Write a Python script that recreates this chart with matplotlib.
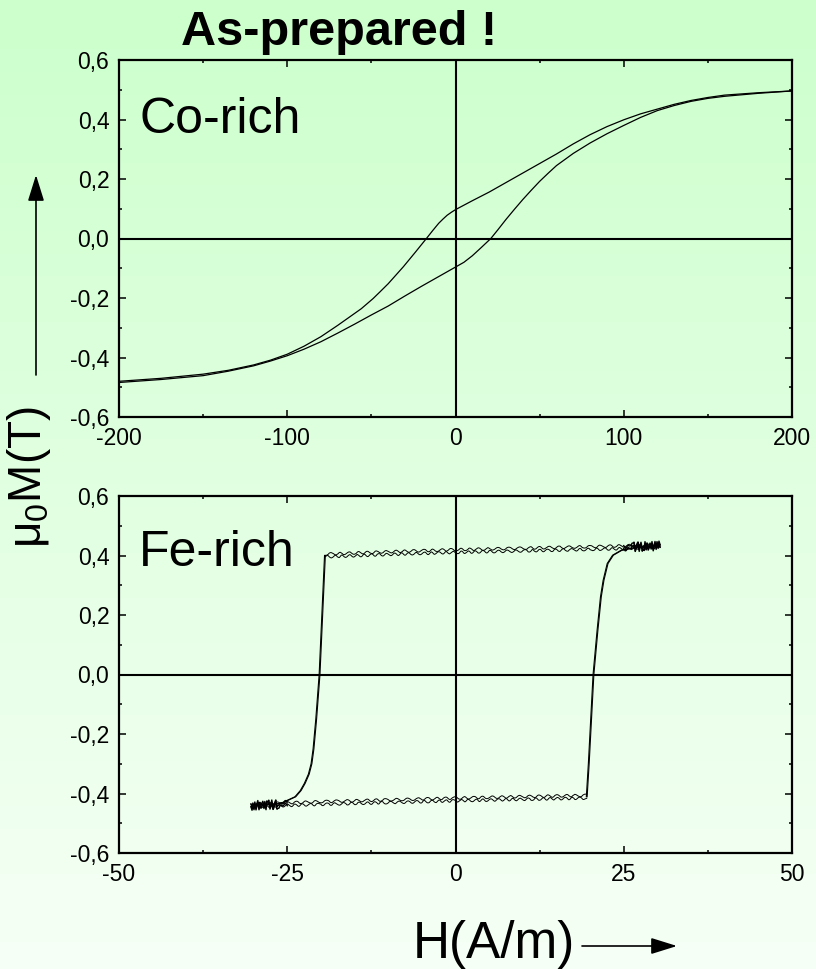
import matplotlib
matplotlib.use("Agg")
import matplotlib.pyplot as plt
import matplotlib.transforms as mtransforms
from matplotlib.ticker import MultipleLocator, FuncFormatter
import numpy as np

plt.rcParams['font.family'] = ['Liberation Sans', 'DejaVu Sans']
plt.rcParams['mathtext.fontset'] = 'custom'
plt.rcParams['mathtext.rm'] = 'Liberation Sans'

W, H = 816, 969

# Co-rich loop (H in A/m, mu0*M in T)
co_desc_H = [200, 180, 160, 150, 140, 130, 120, 110, 100, 90, 80, 70, 60, 50, 40, 30, 20, 10, 0,
             -2.5, -5, -7.5, -10, -13.5, -17, -24, -31, -40, -45, -49, -56, -63, -70, -80, -90, -100,
             -110, -120, -135, -150, -175, -200]
co_desc_M = [0.496, 0.490, 0.482, 0.474, 0.464, 0.451, 0.435, 0.419, 0.399, 0.376, 0.349, 0.318, 0.284,
             0.252, 0.220, 0.188, 0.156, 0.127, 0.097, 0.088, 0.078, 0.065, 0.051, 0.027, 0.002,
             -0.047, -0.095, -0.152, -0.180, -0.202, -0.236, -0.264, -0.292, -0.330, -0.362, -0.389,
             -0.409, -0.425, -0.443, -0.456, -0.470, -0.480]
co_asc_H = [-200, -175, -150, -135, -120, -110, -100, -90, -80, -70, -60, -50, -40, -30, -20, -10, 0,
            5, 10, 15, 21, 25, 30, 35, 40, 45, 50, 55, 60, 70, 80, 90, 100, 110, 120, 130, 140, 150,
            160, 180, 200]
co_asc_M = [-0.484, -0.474, -0.461, -0.446, -0.428, -0.412, -0.394, -0.372, -0.347, -0.318, -0.288,
            -0.257, -0.227, -0.193, -0.160, -0.128, -0.096, -0.080, -0.058, -0.032, 0.0, 0.028, 0.064,
            0.098, 0.131, 0.162, 0.192, 0.219, 0.245, 0.286, 0.321, 0.352, 0.380, 0.407, 0.430, 0.447,
            0.461, 0.471, 0.478, 0.488, 0.496]

# Fe-rich loop, split in flat (noisy) parts and switching parts
fe_top_H = [30.4, 25, 20, 10, 0, -10, -19.4]
fe_top_M = [0.432, 0.428, 0.425, 0.420, 0.415, 0.408, 0.400]
fe_drop_H = [-19.4, -19.6, -20.2, -20.7, -21.1, -21.4, -21.8, -22.4, -23.0, -23.8, -26.0, -30.0]
fe_drop_M = [0.400, 0.300, 0.0, -0.150, -0.250, -0.300, -0.335, -0.366, -0.390, -0.411, -0.434, -0.440]
fe_bot_H = [-30.4, -25, -20, -10, 0, 10, 19.5]
fe_bot_M = [-0.440, -0.436, -0.432, -0.426, -0.420, -0.415, -0.411]
fe_rise_H = [19.5, 19.8, 20.5, 21.1, 21.6, 22.0, 22.6, 23.4, 24.7, 27.0, 30.4]
fe_rise_M = [-0.411, -0.300, 0.0, 0.149, 0.261, 0.317, 0.373, 0.401, 0.418, 0.428, 0.432]

y_ticks = [-0.6, -0.4, -0.2, 0.0, 0.2, 0.4, 0.6]


def px(x, y):
    return x / W, 1 - y / H


fig = plt.figure(figsize=(W / 100, H / 100), dpi=100)

# green gradient background
bg = fig.add_axes([0, 0, 1, 1], zorder=-5)
top = np.array([204, 255, 204]) / 255
bot = np.array([246, 255, 246]) / 255
t = np.linspace(0, 1, 256)[:, None]
grad = top + (bot - top) * t
bg.imshow(grad[:, None, :], aspect='auto', extent=[0, 1, 0, 1])
bg.set_axis_off()


def setup(ax, xlim, xmajor, xminor):
    ax.set_facecolor('none')
    ax.set_xlim(*xlim)
    ax.set_ylim(-0.6, 0.6)
    ax.set_yticks(y_ticks)
    ax.xaxis.set_major_locator(MultipleLocator(xmajor))
    ax.xaxis.set_minor_locator(MultipleLocator(xminor))
    ax.yaxis.set_minor_locator(MultipleLocator(0.1))
    ax.yaxis.set_major_formatter(FuncFormatter(lambda v, p: f"{v:.1f}".replace('.', ',')))
    ax.xaxis.set_major_formatter(FuncFormatter(lambda v, p: f"{v:.0f}"))
    ax.tick_params(which='both', direction='in', top=True, right=True, width=1.1, labelsize=16.5)
    ax.tick_params(which='major', length=5)
    ax.tick_params(which='minor', length=2.5)
    ax.tick_params(axis='x', pad=7)
    ax.tick_params(axis='y', pad=7)
    for s in ax.spines.values():
        s.set_linewidth(1.6)
    ax.axhline(0, color='black', lw=1.5, zorder=1)
    ax.axvline(0, color='black', lw=1.5, zorder=1)


x0, x1 = 119, 792
ax1 = fig.add_axes([x0 / W, 1 - 417 / H, (x1 - x0) / W, 357 / H])
ax2 = fig.add_axes([x0 / W, 1 - 853 / H, (x1 - x0) / W, 357 / H])
setup(ax1, (-200, 200), 100, 50)
setup(ax2, (-50, 50), 25, 12.5)

ax1.plot(co_desc_H, co_desc_M, color='black', lw=0.9)
ax1.plot(co_asc_H, co_asc_M, color='black', lw=0.9)

# switching branches: two nearly overlapping traces
for dx in (-0.4, 0.4):
    off = ax2.transData + mtransforms.ScaledTranslation(dx / 100, 0, fig.dpi_scale_trans)
    ax2.plot(fe_drop_H, fe_drop_M, color='black', lw=0.8, transform=off)
    ax2.plot(fe_rise_H, fe_rise_M, color='black', lw=0.8, transform=off)

# flat, noisy branches: wavy double traces
for i, dy in enumerate((-1.4, 1.4)):
    off = ax2.transData + mtransforms.ScaledTranslation(0, dy / 100, fig.dpi_scale_trans)
    for hh, mm in ((fe_top_H, fe_top_M), (fe_bot_H, fe_bot_M)):
        ln, = ax2.plot(hh, mm, color='black', lw=0.7, transform=off)
        ln.set_sketch_params(scale=1.3, length=8 + 2 * i, randomness=1.5)
        end, = ax2.plot(hh[:2], mm[:2], color='black', lw=1.0, transform=off)
        end.set_sketch_params(scale=3.5, length=2, randomness=2)

fig.text(*px(139, 133), 'Co-rich', fontsize=36, va='baseline')
fig.text(*px(139, 566), 'Fe-rich', fontsize=36, va='baseline')

fig.text(*px(339, 45), 'As-prepared !', fontsize=35, fontweight='bold',
         ha='center', va='baseline')
fig.text(*px(413, 958), 'H(A/m)', fontsize=37, ha='left', va='baseline')
fig.text(*px(41, 548), 'μ$_0$M(T)', fontsize=33, rotation=90,
         ha='left', va='baseline', rotation_mode='anchor')

arrow = dict(arrowstyle='-|>,head_length=0.8,head_width=0.25', color='black', lw=1.2,
             mutation_scale=20, shrinkA=0, shrinkB=0)
bg.annotate('', xy=px(677, 946), xytext=px(582, 946), xycoords='figure fraction',
            textcoords='figure fraction', arrowprops=arrow)
bg.annotate('', xy=px(36, 175), xytext=px(36, 375), xycoords='figure fraction',
            textcoords='figure fraction', arrowprops=arrow)

fig.savefig('out.png', dpi=100)
